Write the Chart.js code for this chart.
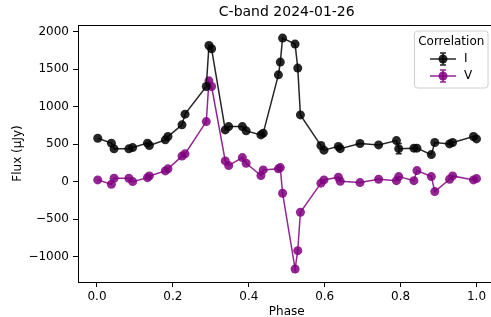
<!DOCTYPE html>
<html>
<head>
<meta charset="utf-8">
<script src="https://cdn.jsdelivr.net/npm/chart.js@4"></script>
<style>
  html, body { margin: 0; padding: 0; background: #fff; overflow: hidden; }
  #wrap { width: 491px; height: 317px; overflow: hidden; position: relative; }
  #c { position: absolute; left: 0; top: 0; }
</style>
</head>
<body>
<div id="wrap"><canvas id="c" width="500" height="317"></canvas></div>
<script>
// C-band 2024-01-26 — I and V flux vs phase.
const phase = [0.002, 0.038, 0.045, 0.084, 0.094, 0.133, 0.138, 0.180, 0.187, 0.224, 0.232,
  0.288, 0.295, 0.302, 0.338, 0.347, 0.383, 0.393, 0.432, 0.438, 0.478, 0.483, 0.489,
  0.522, 0.529, 0.536, 0.590, 0.598, 0.636, 0.641, 0.693, 0.742, 0.789, 0.795, 0.835,
  0.843, 0.881, 0.890, 0.929, 0.937, 0.992, 1.000];
const fluxI = [579, 513, 437, 437, 454, 513, 481, 557, 601, 757, 900,
  1268, 1816, 1772, 690, 734, 734, 677, 623, 646, 1424, 1594, 1914,
  1834, 1514, 890, 481, 420, 470, 440, 508, 490, 547, 440, 446,
  446, 360, 521, 503, 521, 601, 570];
const fluxV = [23, -35, 45, 45, 0, 53, 76, 143, 170, 340, 370,
  801, 1344, 1268, 276, 214, 320, 245, 80, 156, 170, 187, -155,
  -1165, -921, -409, -21, 23, 59, 5, -13, 32, 13, 67, 13,
  147, 67, -133, 32, 76, 23, 40];
// error bars: most are smaller than the marker, only the one at 0.795 shows
const errI = [15, 15, 15, 15, 15, 15, 15, 15, 15, 15, 15, 15, 15, 15, 15, 15, 15, 15, 15, 15, 15,
  15, 15, 15, 15, 15, 15, 15, 15, 15, 15, 15, 15, 70, 15, 15, 15, 15, 15, 15, 15, 15];
const errV = [15, 15, 15, 15, 15, 15, 15, 15, 15, 15, 15, 15, 15, 15, 15, 15, 15, 15, 15, 15, 15,
  15, 15, 15, 15, 15, 15, 15, 15, 15, 15, 15, 15, 60, 15, 15, 15, 15, 15, 15, 15, 15];
const xTicks = [0, 0.2, 0.4, 0.6, 0.8, 1.0];
const yTicks = [-1000, -500, 0, 500, 1000, 1500, 2000];
const seriesNames = ['I', 'V'];

const FONT = 'DejaVu Sans';
const colI = 'rgba(0,0,0,0.85)';
const colV = 'rgba(128,0,128,0.85)';
const R = 4.5;

const pts = (ys) => phase.map((x, i) => ({ x, y: ys[i] }));
const minus = (v) => (v < 0 ? '\u2212' + Math.abs(v) : String(v));

function drawBar(ctx, x, top, bot, color) {
  ctx.save();
  ctx.strokeStyle = color;
  ctx.lineWidth = 1.5;
  ctx.beginPath();
  ctx.moveTo(x, top); ctx.lineTo(x, bot);
  ctx.moveTo(x - 3, top); ctx.lineTo(x + 3, top);
  ctx.moveTo(x - 3, bot); ctx.lineTo(x + 3, bot);
  ctx.stroke();
  ctx.restore();
}

const errorBars = {
  id: 'errorBars',
  beforeDatasetsDraw(chart) {
    const { ctx, scales: { x, y } } = chart;
    [[fluxI, errI, colI], [fluxV, errV, colV]].forEach(([f, e, c]) => {
      phase.forEach((p, i) => {
        const top = y.getPixelForValue(f[i] + e[i]);
        const bot = y.getPixelForValue(f[i] - e[i]);
        if ((bot - top) / 2 <= R + 0.5) return; // hidden under the marker
        drawBar(ctx, x.getPixelForValue(p), top, bot, c);
      });
    });
  },
};

const decor = {
  id: 'decor',
  afterDraw(chart) {
    const { ctx, chartArea: a } = chart;
    ctx.save();
    // frame
    ctx.strokeStyle = '#000'; ctx.lineWidth = 1;
    ctx.strokeRect(a.left + 0.5, a.top + 0.5, a.right - a.left, a.bottom - a.top);
    // title + axis labels
    ctx.fillStyle = '#000';
    ctx.textAlign = 'center'; ctx.textBaseline = 'middle';
    ctx.font = `14px ${FONT}`;
    ctx.fillText('C-band 2024-01-26', (a.left + a.right) / 2, 12);
    ctx.font = `12px ${FONT}`;
    ctx.fillText('Phase', (a.left + a.right) / 2, 312);
    ctx.save();
    ctx.translate(18, (a.top + a.bottom) / 2);
    ctx.rotate(-Math.PI / 2);
    ctx.fillText('Flux (\u03bcJy)', 0, 0);
    ctx.restore();
    // legend
    const lx = 414.5, ly = 31, lw = 73.5, lh = 57;
    ctx.fillStyle = 'rgba(255,255,255,0.8)';
    ctx.strokeStyle = '#d0d0d0'; ctx.lineWidth = 1;
    ctx.beginPath();
    ctx.roundRect(lx, ly, lw, lh, 3);
    ctx.fill(); ctx.stroke();
    ctx.fillStyle = '#000';
    ctx.font = `12px ${FONT}`;
    ctx.fillText('Correlation', lx + lw / 2, 42);
    [[colI, 59], [colV, 76]].forEach(([c, yy], k) => {
      ctx.strokeStyle = c; ctx.lineWidth = 1.5;
      ctx.beginPath(); ctx.moveTo(430, yy); ctx.lineTo(456, yy); ctx.stroke();
      drawBar(ctx, 443, yy - 6, yy + 6, c);
      ctx.fillStyle = c;
      ctx.beginPath(); ctx.arc(443, yy, R, 0, Math.PI * 2); ctx.fill();
      ctx.fillStyle = '#000';
      ctx.textAlign = 'left';
      ctx.fillText(seriesNames[k], 464, yy);
      ctx.textAlign = 'center';
    });
    ctx.restore();
  },
};

new Chart(document.getElementById('c'), {
  type: 'scatter',
  data: {
    datasets: [
      { label: seriesNames[0], data: pts(fluxI), showLine: true, borderColor: colI, backgroundColor: colI,
        borderWidth: 1.5, pointRadius: R, pointBorderWidth: 0, pointHoverRadius: R },
      { label: seriesNames[1], data: pts(fluxV), showLine: true, borderColor: colV, backgroundColor: colV,
        borderWidth: 1.5, pointRadius: R, pointBorderWidth: 0, pointHoverRadius: R },
    ],
  },
  options: {
    responsive: false, animation: false,
    layout: { padding: { top: 25, right: 4, left: 0, bottom: 0 } },
    plugins: { legend: { display: false }, tooltip: { enabled: false } },
    scales: {
      x: {
        type: 'linear', min: -0.05, max: 1.05,
        afterBuildTicks: (s) => { s.ticks = xTicks.map((v) => ({ value: v })); },
        afterFit: (s) => { s.height = 35; },
        ticks: { color: '#000', padding: 3, font: { family: FONT, size: 12 }, callback: (v) => v.toFixed(1), maxRotation: 0 },
        grid: { drawOnChartArea: false, drawTicks: true, tickLength: 5, color: '#000' },
        border: { display: true, color: '#000' },
      },
      y: {
        type: 'linear', min: -1339, max: 2089,
        afterBuildTicks: (s) => { s.ticks = yTicks.map((v) => ({ value: v })); },
        afterFit: (s) => { s.width = 78; },
        ticks: { color: '#000', padding: 4, font: { family: FONT, size: 12 }, callback: (v) => minus(v) },
        grid: { drawOnChartArea: false, drawTicks: true, tickLength: 5, color: '#000' },
        border: { display: true, color: '#000' },
      },
    },
  },
  plugins: [errorBars, decor],
});
</script>
</body>
</html>
